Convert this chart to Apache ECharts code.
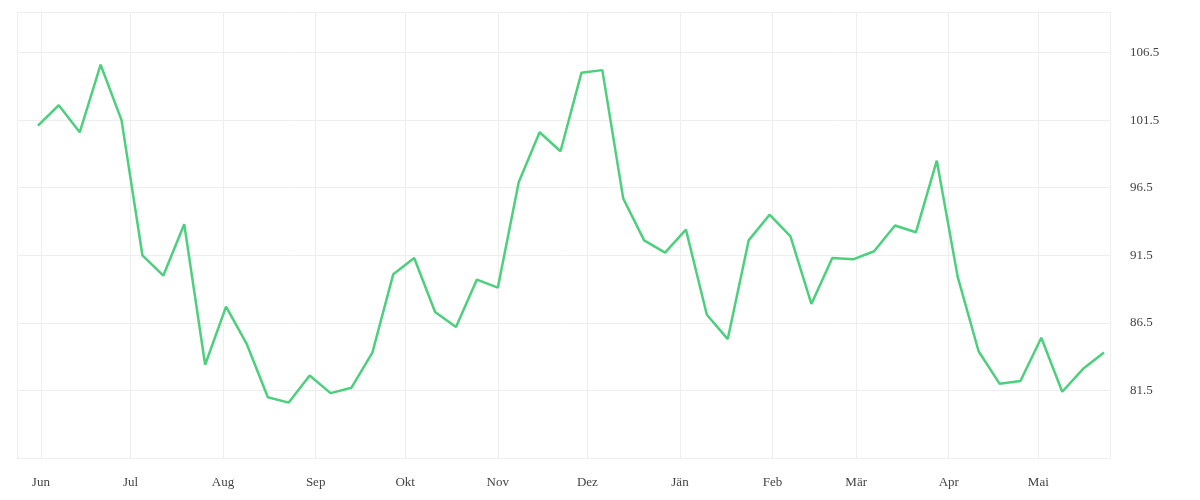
<!DOCTYPE html>
<html><head><meta charset="utf-8">
<script src="https://cdn.jsdelivr.net/npm/echarts@6/dist/echarts.min.js"></script>
<style>html,body{margin:0;background:#fff}#c{width:1200px;height:500px}</style>
</head><body><div id="c"></div>
<script>
const startDate = '2020-05-31';
const values = [101.1,102.6,100.6,105.6,101.5,91.5,90.0,93.8,83.4,87.7,84.9,81.0,80.6,82.6,81.3,81.7,84.3,90.1,91.3,87.3,86.2,89.7,89.1,96.9,100.6,99.2,105.0,105.2,95.7,92.6,91.7,93.4,87.1,85.3,92.6,94.5,92.9,87.9,91.3,91.2,91.8,93.7,93.2,98.5,89.9,84.4,82.0,82.2,85.4,81.4,83.1,84.3];
const monthNames = ['Jän','Feb','Mär','Apr','Mai','Jun','Jul','Aug','Sep','Okt','Nov','Dez'];
const DAY = 86400000;
const t0 = Date.parse(startDate + 'T00:00:00Z');
const data = values.map((v,i)=>[t0 + i*7*DAY, v]);
const chart = echarts.init(document.getElementById('c'));
chart.setOption({
  animation:false,
  grid:{left:17,right:90,top:12,bottom:42},
  xAxis:{type:'time',min:Date.parse('2020-05-24T00:00:00Z'),max:Date.parse('2021-05-25T00:00:00Z'),
    minInterval:28*DAY,maxInterval:31*DAY,
    axisLine:{show:true,lineStyle:{color:'#eee'}},axisTick:{show:false},
    splitLine:{show:true,lineStyle:{color:'#eee'}},
    axisLabel:{color:'#444',fontFamily:'Liberation Serif',fontSize:13,margin:18,
      formatter:v=>monthNames[new Date(v).getUTCMonth()],showMinLabel:false,showMaxLabel:false}},
  yAxis:{type:'value',position:'right',min:76.5,max:109.5,interval:5,
    axisLine:{show:false},axisTick:{show:false},
    splitLine:{lineStyle:{color:'#eee'}},
    axisLabel:{color:'#444',fontFamily:'Liberation Serif',fontSize:13,margin:20,showMinLabel:false,showMaxLabel:false}},
  series:[{type:'line',data:data,showSymbol:false,lineStyle:{color:'#4cd07d',width:2.5},itemStyle:{color:'#4cd07d'}}]
});
</script></body></html>
